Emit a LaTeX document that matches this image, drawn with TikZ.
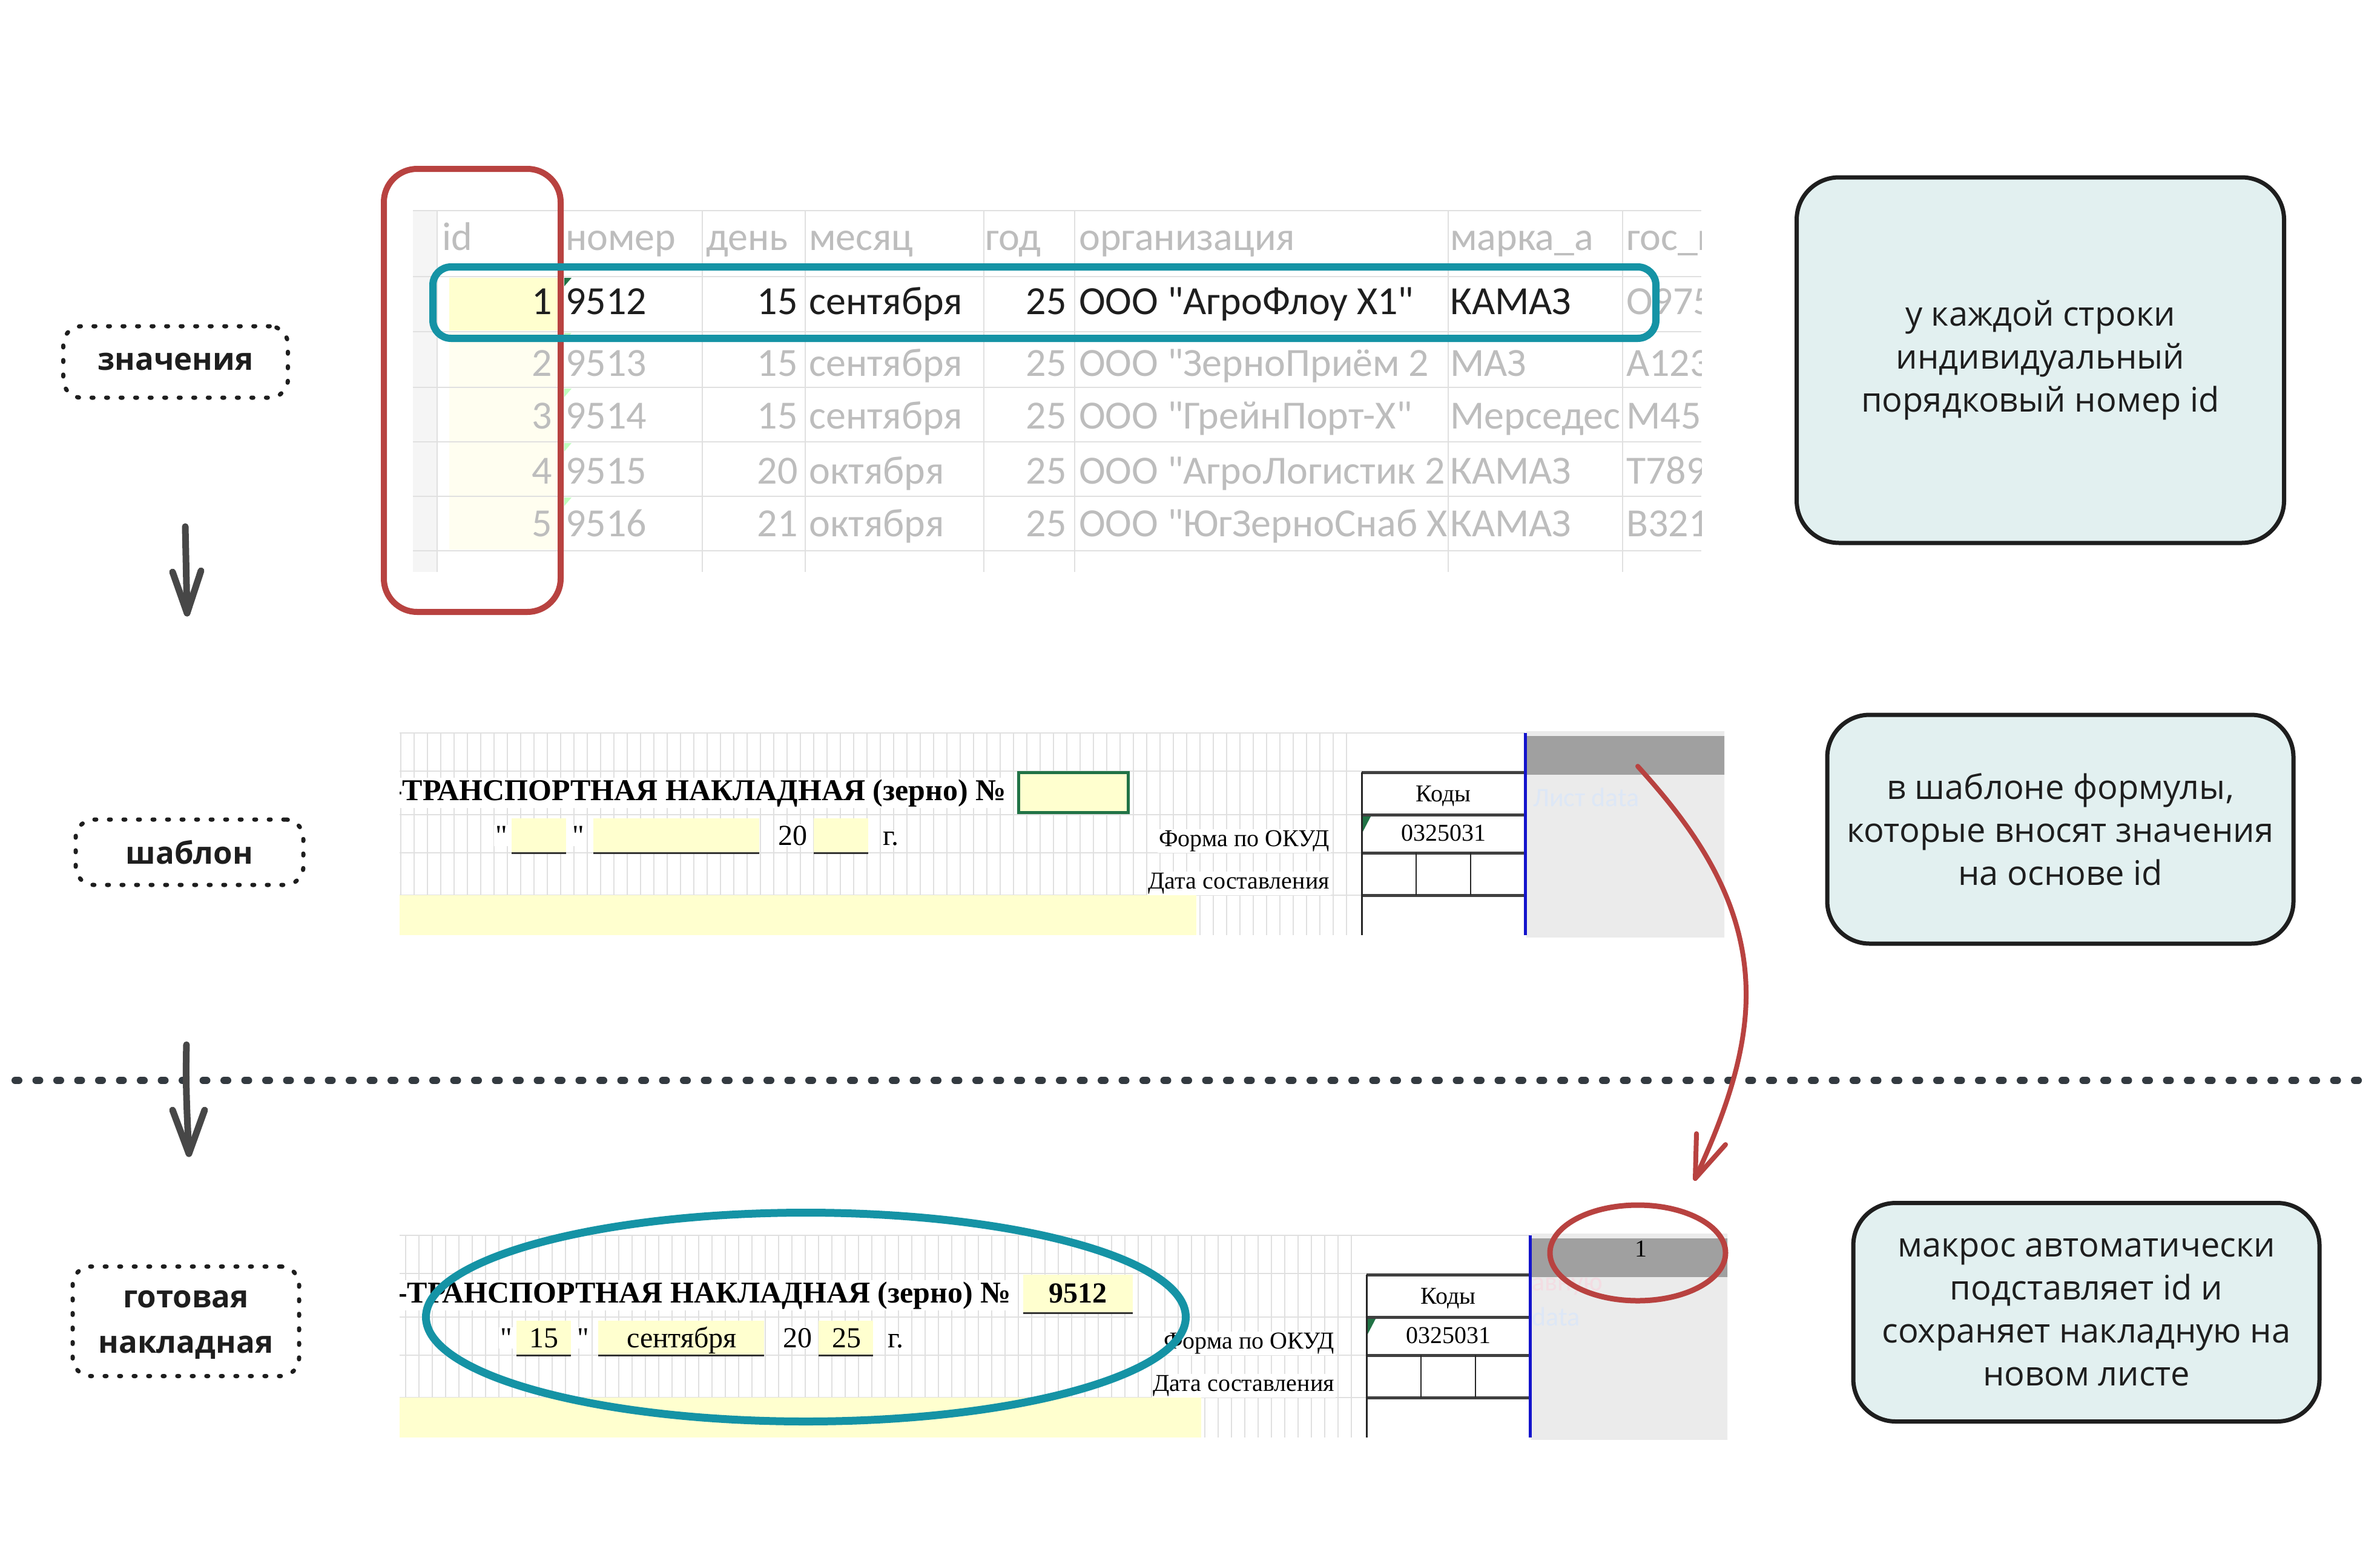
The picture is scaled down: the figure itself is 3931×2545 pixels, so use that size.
\documentclass[tikz,border=0pt]{standalone}
\usepackage{fontspec}
\setmainfont{Liberation Serif}[Ligatures=TeXOff]
\newfontfamily\xlf{Carlito}[Ligatures=TeXOff]
\newfontfamily\handf{Open Sans}
\usetikzlibrary{shapes.geometric}
\definecolor{teal1}{HTML}{1593A5}
\definecolor{red1}{HTML}{B84240}
\definecolor{yel}{HTML}{FFFFCF}
\definecolor{yelf}{HTML}{FFFEF0}
\definecolor{gridc}{HTML}{E0E0E0}
\definecolor{fadet}{HTML}{BDBDBD}
\definecolor{notec}{HTML}{E2F0F0}
\definecolor{ink}{HTML}{1E1E1E}
\definecolor{xblue}{HTML}{1414CC}
\definecolor{linkc}{HTML}{DDE7F6}
\definecolor{pinkc}{HTML}{F3DDE3}
\definecolor{greenx}{HTML}{217346}
\definecolor{graya}{HTML}{EBEBEB}
\definecolor{grayb}{HTML}{A0A0A0}
\definecolor{sepc}{HTML}{333A40}

\newcommand\trow[9]{%
 \node[xle,text=#2] (r#3a) at (912,#1) {#3};
 \node[xlw,text=#2] (r#3b) at (934,#1) {#4};
 \node[xle,text=#2] (r#3c) at (1318,#1) {#5};
 \node[xlw,text=#2] (r#3d) at (1336,#1) {#6};
 \node[xle,text=#2] (r#3e) at (1762,#1) {25};
 \begin{scope}\clip (1777,#1-45) rectangle (2391,#1+45);
 \node[xlw,text=#2] (r#3f) at (1782,#1) {#7};\end{scope}
 \begin{scope}\clip (2393,#1-45) rectangle (2681,#1+45);
 \node[xlw,text=#2] (r#3g) at (2395,#1) {#8};\end{scope}
 \node[xlw,text=fadet] (r#3h) at (2686,#1) {#9};
}

\newcommand\formbase[2]{%
 \foreach \gx in {662,684,...,2244} \draw[gridl] (\gx,1211) -- (\gx,1545);
 \foreach \gy in {1211,1274,1346,1409,1479} \draw[gridl] (640,\gy) -- (2519,\gy);
 \fill[yel] (640,1479) rectangle (1976,1545);
 \fill[yel] (845,1352) rectangle (935,1409);
 \fill[yel] (980,1352) rectangle (1254,1409);
 \fill[yel] (1344,1352) rectangle (1434,1409);
 \draw[uline] (845,1409) -- (935,1409);
 \draw[uline] (980,1409) -- (1254,1409);
 \draw[uline] (1344,1409) -- (1434,1409);
 \fill[white] (2249,1274) rectangle (2517,1545);
 \draw[thickb] (2249,1276) -- (2517,1276);
 \draw[thickb] (2249,1346) -- (2517,1346);
 \draw[thickb] (2249,1409) -- (2517,1409);
 \draw[thickb] (2249,1479) -- (2517,1479);
 \draw[black!85,line width=3] (2249,1276) -- (2249,1545);
 \draw[black!85,line width=2.5] (2339,1409) -- (2339,1479);
 \draw[black!85,line width=2.5] (2429,1409) -- (2429,1479);
 \fill[greenx] (2251,1349) -- (2264,1349) -- (2251,1374) -- cycle;
 \node[tnr,anchor=base east,fill=white,inner sep=2pt,font=\bfseries\fontsize{50}{50}\selectfont] (#1title) at (1664,1322) {#2};
 \node[tnr,anchor=base,fill=white,inner sep=2pt] (#1q1) at (828,1396) {"};
 \node[tnr,anchor=base,fill=white,inner sep=2pt] (#1q2) at (955,1396) {"};
 \node[tnr,anchor=base,fill=white,inner sep=2pt] (#1yr) at (1309,1396) {20};
 \node[tnr,anchor=base west,fill=white,inner sep=2pt] (#1g) at (1456,1396) {г.};
 \node[smalltxt,anchor=base] (#1kody) at (2384,1324) {Коды};
 \node[smalltxt,anchor=base] (#1okud) at (2384,1389) {0325031};
 \node[smalltxt,anchor=base east,fill=white,inner sep=2pt] (#1forma) at (2198,1398) {Форма по ОКУД};
 \node[smalltxt,anchor=base east,fill=white,inner sep=2pt] (#1data) at (2198,1468) {Дата составления};
 \fill[graya] (2521,1208) rectangle (2860,1549);
 \fill[grayb] (2521,1216) rectangle (2860,1280);
 \draw[xblue,line width=5] (2519,1211) -- (2519,1545);
}

\begin{document}
\begin{tikzpicture}[x=1pt,y=-1pt,
 xl/.style={inner sep=0pt,yshift=-17pt,font=\xlf\fontsize{66}{66}\selectfont},
 xlw/.style={xl,anchor=mid west},
 xle/.style={xl,anchor=mid east},
 tnr/.style={inner sep=0pt,font=\fontsize{48}{48}\selectfont,text=black},
 smalltxt/.style={inner sep=0pt,font=\fontsize{40}{40}\selectfont,text=black},
 gridl/.style={draw=gridc,line width=1.6},
 thickb/.style={draw=black!75,line width=5},
 uline/.style={draw=black!80,line width=3},
 note/.style={draw=ink,fill=notec,line width=7,rounded corners=70,align=center,
   font=\handf\fontsize{56}{71}\selectfont,text=ink},
 tag/.style={draw=ink,line width=7,dash pattern=on 3pt off 21pt,line cap=round,
   rounded corners=30,align=center,font=\handf\bfseries\fontsize{51}{75}\selectfont,text=ink},
 downarr/.style={draw=black!72,line width=11,line cap=round,line join=round},
 sepline/.style={draw=sepc,line width=12,dash pattern=on 6pt off 28.5pt,line cap=round},
 redmark/.style={draw=red1,line width=10},
 tealmark/.style={draw=teal1,line width=12}]

\fill[white] (0,0) rectangle (3931,2545);
\useasboundingbox (0,0) rectangle (3931,2545);

% ---------------- sheet 1 : values table ----------------
\begin{scope}
\clip (678,340) rectangle (2810,950);
\fill[black!4] (682,348) rectangle (722,945);
\fill[yel] (742,459) rectangle (929,546);
\fill[yelf] (742,550) rectangle (929,908);
\foreach \cx in {722,930,1160,1330,1625,1775,2392,2680} \draw[gridl] (\cx,348) -- (\cx,945);
\foreach \ry in {348,457,548,640,730,820,910} \draw[gridl] (682,\ry) -- (2810,\ry);
\foreach \ry/\gc in {459/greenx,550/green!25,642/green!25,732/green!25,822/green!25}
  \fill[\gc] (932,\ry) -- (944,\ry) -- (932,\ry+14) -- cycle;
% header
\node[xlw,text=fadet] (hid) at (730,394) {id};
\node[xlw,text=fadet] (hnum) at (934,394) {номер};
\node[xlw,text=fadet] (hday) at (1166,394) {день};
\node[xlw,text=fadet] (hmon) at (1336,394) {месяц};
\node[xlw,text=fadet] (hyr) at (1627,394) {год};
\node[xlw,text=fadet] (horg) at (1782,394) {организация};
\node[xlw,text=fadet] (hbr) at (2395,394) {марка\_а};
\node[xlw,text=fadet] (hgos) at (2686,394) {гос\_н};
% rows
\trow{500}{ink}{1}{9512}{15}{сентября}{ООО "АгроФлоу Х1"}{КАМАЗ}{О975АВ}
\trow{602}{fadet}{2}{9513}{15}{сентября}{ООО "ЗерноПриём 2}{МАЗ}{А123}
\trow{689}{fadet}{3}{9514}{15}{сентября}{ООО "ГрейнПорт-Х"}{Мерседес}{М456}
\trow{780}{fadet}{4}{9515}{20}{октября}{ООО "АгроЛогистик 2}{КАМАЗ}{Т789}
\trow{867}{fadet}{5}{9516}{21}{октября}{ООО "ЮгЗерноСнаб Х}{КАМАЗ}{В321}
\end{scope}

% highlights on sheet 1
\node[redmark,rounded corners=55,minimum width=292,minimum height=732] (idmark) at (780,645) {};
\node[tealmark,rounded corners=30,minimum width=2020,minimum height=118] (rowmark) at (1725,500) {};

% ---------------- separator ----------------
\coordinate (sl) at (25,1785);
\coordinate (sr) at (3912,1785);
\draw[sepline] (sl) -- (sr);

% ---------------- sheet 2 : template ----------------
\begin{scope}
\clip (660,1200) rectangle (2848,1552);
\formbase{t}{-ТРАНСПОРТНАЯ НАКЛАДНАЯ (зерно) №}
\fill[yel] (1682,1276) rectangle (1863,1342);
\draw[greenx,line width=5] (1682,1276) rectangle (1863,1342);
\node[inner sep=0pt,anchor=base west,text=linkc,font=\xlf\fontsize{44}{44}\selectfont] (tlink) at (2532,1332) {Лист data};
\end{scope}

% ---------------- sheet 3 : result ----------------
\begin{scope}[shift={(8,830)}]
\clip (652,1200) rectangle (2845,1552);
\formbase{f}{О-ТРАНСПОРТНАЯ НАКЛАДНАЯ (зерно) №}
\fill[yel] (1682,1276) rectangle (1863,1339);
\draw[uline] (1682,1339) -- (1863,1339);
\node[tnr,anchor=base] (fnum) at (1772,1322) {\bfseries 9512};
\node[tnr,anchor=base] (fday) at (890,1396) {15};
\node[tnr,anchor=base] (fmon) at (1118,1396) {сентября};
\node[tnr,anchor=base] (fyr) at (1390,1396) {25};
\node[smalltxt,anchor=base] (fid) at (2702,1246) {1};
\node[inner sep=0pt,anchor=base west,text=pinkc,font=\xlf\fontsize{44}{44}\selectfont] (flink1) at (2522,1302) {авную};
\node[inner sep=0pt,anchor=base west,text=linkc,font=\xlf\fontsize{44}{44}\selectfont] (flink2) at (2522,1360) {data};
\end{scope}

% highlights on sheet 3
\node[tealmark,line width=13,ellipse,minimum width=1255,minimum height=345] (numring) at (1331,2176) {};
\node[redmark,line width=9,ellipse,minimum width=290,minimum height=158] (idring) at (2705,2070) {};

% red curved arrow
\coordinate (rs) at (2705,1266);
\coordinate (re) at (2800,1947);
\draw[red1,line width=8,line cap=round,line join=round]
  (rs) .. controls (2790,1360) and (2883,1480) .. (2884,1640)
       .. controls (2885,1750) and (2840,1860) .. (re);
\draw[red1,line width=8,line cap=round,line join=round]
  ([shift={(2,-74)}]re) -- (re) -- ([shift={(50,-56)}]re);

% ---------------- left labels and arrows ----------------
\node[tag,minimum width=371,minimum height=118] (lbl1) at (290,598) {значения};
\node[tag,minimum width=376,minimum height=108] (lbl2) at (313,1408) {шаблон};
\node[tag,minimum width=374,minimum height=181] (lbl3) at (307,2183) {\rule{0pt}{40pt}готовая\\накладная};

\coordinate (d1s) at (306,870);
\coordinate (d1e) at (309,1013);
\draw[downarr] (d1s) -- (d1e);
\draw[downarr] ([shift={(-24,-68)}]d1e) -- (d1e) -- ([shift={(23,-70)}]d1e);

\coordinate (d2s) at (308,1726);
\coordinate (d2e) at (312,1906);
\draw[downarr] (d2s) .. controls (306,1800) and (310,1860) .. (d2e);
\draw[downarr] ([shift={(-27,-72)}]d2e) -- (d2e) -- ([shift={(26,-72)}]d2e);

% ---------------- notes on the right ----------------
\node[note,minimum width=805,minimum height=604] (note1) at (3370,595)
  {у каждой строки\\индивидуальный\\порядковый номер id};
\node[note,minimum width=770,minimum height=378] (note2) at (3403,1370)
  {в шаблоне формулы,\\которые вносят значения\\на основе id};
\node[note,minimum width=770,minimum height=361] (note3) at (3446,2168)
  {макрос автоматически\\подставляет id и\\сохраняет накладную на\\новом листе};
\end{tikzpicture}
\end{document}
